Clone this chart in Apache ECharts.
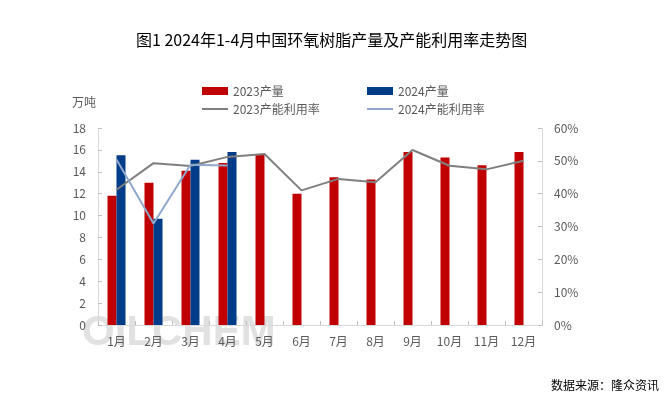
<!DOCTYPE html>
<html>
<head>
<meta charset="utf-8">
<script src="https://cdn.jsdelivr.net/npm/echarts@6/dist/echarts.min.js"></script>
<style>
  html, body { margin: 0; padding: 0; background: #fff; }
  #chart { width: 671px; height: 410px; }
</style>
</head>
<body>
<div id="chart"></div>
<script>
// 月份
const months = ['1月', '2月', '3月', '4月', '5月', '6月', '7月', '8月', '9月', '10月', '11月', '12月']
// 产量（万吨）
const output2023 = [11.8, 13.0, 14.1, 14.8, 15.6, 12.0, 13.5, 13.3, 15.8, 15.3, 14.6, 15.8]
const output2024 = [15.5, 9.7, 15.1, 15.8]
// 产能利用率（%）
const rate2023 = [41.2, 49.3, 48.4, 51.2, 52.1, 41.0, 44.5, 43.5, 53.3, 48.5, 47.4, 50.0]
const rate2024 = [50.4, 30.9, 48.8, 48.6]

const cjk = '"Noto Sans CJK SC", "Noto Sans", sans-serif'
const lineIcon = 'path://M0,0L26,0L26,2L0,2Z'
const myChart = echarts.init(document.getElementById('chart'))

const tick = { show: true, inside: true, length: 4, lineStyle: { color: '#bfbfbf' } }

const option = {
  animation: false,
  textStyle: { fontFamily: cjk },
  title: {
    text: '图1 2024年1-4月中国环氧树脂产量及产能利用率走势图',
    left: 131,
    top: 27,
    textStyle: { fontSize: 16, fontWeight: 'normal', color: '#000', fontFamily: cjk }
  },
  legend: [
    {
      orient: 'vertical',
      left: 197,
      top: 80,
      itemWidth: 26,
      itemHeight: 8,
      itemGap: 6,
      textStyle: { color: '#595959', fontSize: 12 },
      data: [{ name: '2023产量', icon: 'rect' }, { name: '2023产能利用率', icon: lineIcon }]
    },
    {
      orient: 'vertical',
      left: 362,
      top: 80,
      itemWidth: 26,
      itemHeight: 8,
      itemGap: 6,
      textStyle: { color: '#595959', fontSize: 12 },
      data: [{ name: '2024产量', icon: 'rect' }, { name: '2024产能利用率', icon: lineIcon }]
    }
  ],
  grid: { left: 98, right: 129, top: 128, bottom: 85 },
  graphic: [
    {
      type: 'text',
      left: 72,
      top: 96,
      style: { text: '万吨', fontSize: 12, fill: '#595959', fontFamily: cjk }
    },
    {
      type: 'text',
      left: 551,
      top: 379,
      style: { text: '数据来源：隆众资讯', fontSize: 12, fill: '#000', fontFamily: cjk }
    },
    {
      type: 'text',
      left: 82,
      top: 312,
      z: -1,
      style: { text: 'OILCHEM', fontSize: 42, fontWeight: 'bold', fill: 'rgba(195,195,195,0.5)', fontFamily: 'Liberation Sans' }
    }
  ],
  xAxis: {
    type: 'category',
    data: months,
    axisLine: { lineStyle: { color: '#d9d9d9' } },
    axisTick: tick,
    axisLabel: { color: '#595959', fontSize: 12, margin: 10 }
  },
  yAxis: [
    {
      type: 'value',
      min: 0,
      max: 18,
      interval: 2,
      splitLine: { show: false },
      axisLine: { show: true, lineStyle: { color: '#d9d9d9' } },
      axisTick: tick,
      axisLabel: { color: '#595959', fontSize: 12, margin: 12 }
    },
    {
      type: 'value',
      min: 0,
      max: 60,
      interval: 10,
      splitLine: { show: false },
      axisLine: { show: true, lineStyle: { color: '#d9d9d9' } },
      axisTick: tick,
      axisLabel: { color: '#595959', fontSize: 12, margin: 12, formatter: '{value}%' }
    }
  ],
  series: [
    {
      name: '2023产量',
      type: 'bar',
      data: output2023,
      barWidth: 9,
      barGap: '0%',
      itemStyle: { color: '#C00000' }
    },
    {
      name: '2024产量',
      type: 'bar',
      data: output2024,
      barWidth: 9,
      barGap: '0%',
      itemStyle: { color: '#003C88' }
    },
    {
      name: '2023产能利用率',
      type: 'line',
      yAxisIndex: 1,
      data: rate2023,
      symbol: 'none',
      lineStyle: { color: '#7F7F7F', width: 2 },
      itemStyle: { color: '#7F7F7F' }
    },
    {
      name: '2024产能利用率',
      type: 'line',
      yAxisIndex: 1,
      data: rate2024,
      symbol: 'none',
      lineStyle: { color: '#8FA8CC', width: 2 },
      itemStyle: { color: '#8FA8CC' }
    }
  ]
}

myChart.setOption(option)
</script>
</body>
</html>
